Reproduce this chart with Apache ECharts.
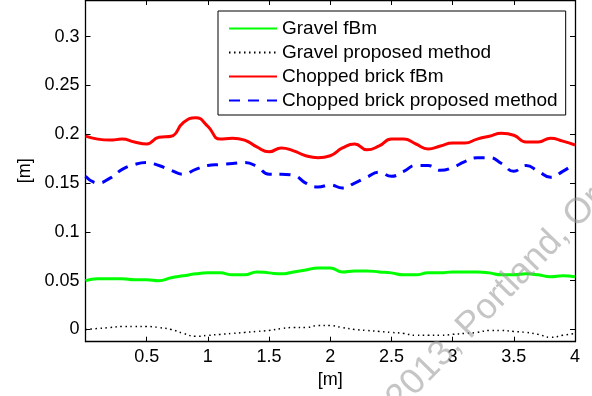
<!DOCTYPE html>
<html>
<head>
<meta charset="utf-8">
<script src="https://cdn.jsdelivr.net/npm/echarts@6/dist/echarts.min.js"></script>
<style>
  html, body { margin: 0; padding: 0; background: #fff; }
  #chart { width: 592px; height: 396px; }
</style>
</head>
<body>
<div id="chart"></div>
<script>
// x positions along the profile [m]
const xs = [0, 0.1, 0.2, 0.3, 0.4, 0.5, 0.6, 0.7, 0.8, 0.9, 1.0, 1.1, 1.2, 1.3, 1.4, 1.5, 1.6, 1.7, 1.8, 1.9, 2.0,
  2.1, 2.2, 2.3, 2.4, 2.5, 2.6, 2.7, 2.8, 2.9, 3.0, 3.1, 3.2, 3.3, 3.4, 3.5, 3.6, 3.7, 3.8, 3.9, 4.0];

const gravelFbm = [0.050, 0.052, 0.052, 0.052, 0.051, 0.051, 0.050, 0.053, 0.055, 0.057, 0.058,
  0.058, 0.056, 0.056, 0.059, 0.058, 0.057, 0.059, 0.061, 0.063, 0.063,
  0.059, 0.060, 0.060, 0.059, 0.058, 0.056, 0.056, 0.058, 0.058, 0.059,
  0.059, 0.059, 0.058, 0.056, 0.056, 0.057, 0.056, 0.054, 0.055, 0.054];

const gravelProposed = [0.000, 0.001, 0.002, 0.003, 0.003, 0.003, 0.002, 0.000, -0.004, -0.007, -0.006,
  -0.005, -0.004, -0.003, -0.002, -0.001, 0.001, 0.002, 0.002, 0.004, 0.004,
  0.002, 0.000, -0.001, -0.002, -0.003, -0.004, -0.006, -0.006, -0.006, -0.005,
  -0.004, -0.003, -0.001, -0.001, -0.002, -0.003, -0.005, -0.008, -0.006, -0.004];

const brickFbm = [0.198, 0.195, 0.194, 0.195, 0.192, 0.190, 0.197, 0.198, 0.212, 0.217, 0.208,
  0.195, 0.196, 0.194, 0.187, 0.182, 0.186, 0.183, 0.178, 0.176, 0.178,
  0.186, 0.190, 0.184, 0.188, 0.195, 0.195, 0.190, 0.185, 0.188, 0.191,
  0.191, 0.195, 0.198, 0.201, 0.199, 0.192, 0.192, 0.196, 0.193, 0.189];

const brickProposed = [0.157, 0.150, 0.155, 0.164, 0.169, 0.171, 0.168, 0.163, 0.159, 0.164, 0.168,
  0.169, 0.170, 0.171, 0.167, 0.159, 0.159, 0.158, 0.150, 0.146, 0.148,
  0.145, 0.150, 0.156, 0.161, 0.157, 0.162, 0.168, 0.168, 0.163, 0.166,
  0.172, 0.176, 0.176, 0.170, 0.162, 0.168, 0.162, 0.156, 0.162, 0.170];

const yTicks = [0, 0.05, 0.1, 0.15, 0.2, 0.25, 0.3];

const pairs = (vals) => xs.map((x, i) => [x, vals[i]]);

const font = 'Liberation Sans, Arial, Helvetica, sans-serif';

const chart = echarts.init(document.getElementById('chart'));

const tickStyle = { inside: true, length: 5, lineStyle: { color: '#000', width: 1 } };
const lineAxis = { onZero: false, lineStyle: { color: '#000', width: 1.3 } };

const option = {
  animation: false,
  grid: { left: 85.5, right: 17, top: 0, bottom: 54.3, containLabel: false },
  xAxis: [
    {
      type: 'value', min: 0, max: 4, interval: 0.5,
      axisLine: lineAxis, axisTick: tickStyle, splitLine: { show: false },
      axisLabel: {
        color: '#000', fontSize: 18, fontFamily: font, margin: 6,
        formatter: (v) => (v === 0 ? '' : String(v))
      },
      name: '[m]', nameLocation: 'middle', nameGap: 29,
      nameTextStyle: { color: '#000', fontSize: 18, fontFamily: font }
    },
    {
      type: 'value', min: 0, max: 4, interval: 0.5, position: 'top',
      axisLine: lineAxis, axisTick: tickStyle, axisLabel: { show: false }, splitLine: { show: false }
    }
  ],
  yAxis: [
    {
      type: 'value', min: -0.0125, max: 0.3375,
      axisLine: lineAxis,
      axisTick: Object.assign({ customValues: yTicks }, tickStyle),
      axisLabel: { customValues: yTicks, color: '#000', fontSize: 18, fontFamily: font, margin: 6 },
      splitLine: { show: false },
      name: '[m]', nameLocation: 'middle', nameGap: 51,
      nameTextStyle: { color: '#000', fontSize: 18, fontFamily: font }
    },
    {
      type: 'value', min: -0.0125, max: 0.3375, position: 'right',
      axisLine: lineAxis,
      axisTick: Object.assign({ customValues: yTicks }, tickStyle),
      axisLabel: { show: false }, splitLine: { show: false }
    }
  ],
  legend: {
    orient: 'vertical', left: 218, top: 11,
    padding: [8, 8, 5, 10],
    itemWidth: 48, itemHeight: 16, itemGap: 5,
    backgroundColor: '#fff', borderColor: '#000', borderWidth: 1,
    itemStyle: { opacity: 0 },
    textStyle: { color: '#000', fontSize: 19, fontFamily: font },
    data: ['Gravel fBm', 'Gravel proposed method', 'Chopped brick fBm', 'Chopped brick proposed method']
  },
  series: [
    {
      name: 'Gravel fBm', type: 'line', data: pairs(gravelFbm), smooth: true,
      symbol: 'none', lineStyle: { color: '#00ff00', width: 3 }, itemStyle: { color: '#00ff00' }
    },
    {
      name: 'Gravel proposed method', type: 'line', data: pairs(gravelProposed), smooth: true,
      symbol: 'none',
      lineStyle: { color: '#000', width: 1.5, type: [1.5, 3.5] }, itemStyle: { color: '#000' }
    },
    {
      name: 'Chopped brick fBm', type: 'line', data: pairs(brickFbm), smooth: true,
      symbol: 'none', lineStyle: { color: '#ff0000', width: 3 }, itemStyle: { color: '#ff0000' }
    },
    {
      name: 'Chopped brick proposed method', type: 'line', data: pairs(brickProposed), smooth: true,
      symbol: 'none', lineStyle: { color: '#0000ff', width: 3, type: [11, 8] }, itemStyle: { color: '#0000ff' }
    }
  ],
  graphic: [
    {
      type: 'text', x: 380, y: 392, rotation: 0.8, silent: true, z: 100,
      style: { text: '2013, Portland, Oregon', fontSize: 36, fontFamily: font, fill: 'rgba(150,150,150,0.55)' }
    }
  ]
};

chart.setOption(option);
</script>
</body>
</html>
